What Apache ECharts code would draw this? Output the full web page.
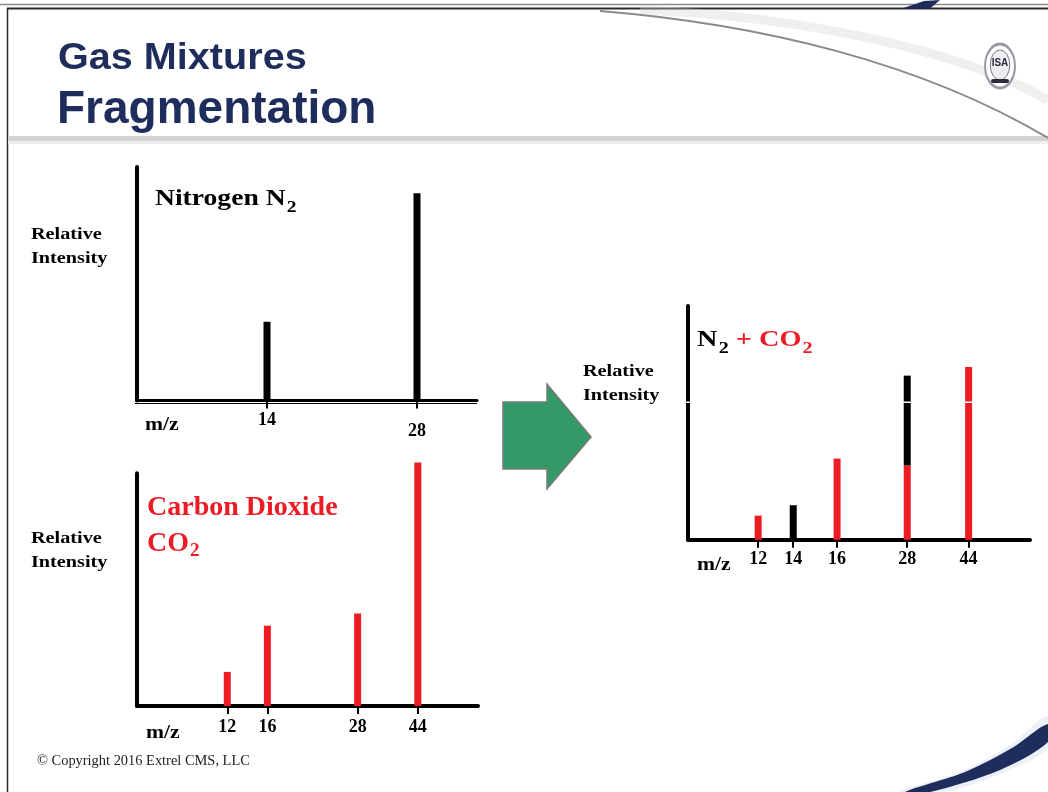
<!DOCTYPE html>
<html>
<head>
<meta charset="utf-8">
<script src="https://cdn.jsdelivr.net/npm/echarts@6/dist/echarts.min.js"></script>
<style>
  html, body { margin: 0; padding: 0; background: #ffffff; }
  #chart { width: 1048px; height: 792px; }
</style>
</head>
<body>
<div id="chart"></div>
<script>
// Mass spectra peaks: m/z tick label and relative intensity
const n2Mz = ['14', '28'];
const n2Intensity = [38, 100];

const co2Mz = ['12', '16', '28', '44'];
const co2Intensity = [14, 33, 38, 100];

const mixMz = ['12', '14', '16', '28', '44'];
const mixCo2Part = [14, null, 47, 43, 100];
const mixN2Part = [null, 20, null, 52, null];

// Axis layout: slot count of each schematic m/z axis, the slot a tick sits on, value range
const n2Axis = { slots: 35, at: { '14': 13, '28': 28 }, max: 112.7 };
const co2Axis = { slots: 35, at: { '12': 9, '16': 13, '28': 22, '44': 28 }, max: 95.6 };
const mixAxis = { slots: 40, at: { '12': 8, '14': 12, '16': 17, '28': 25, '44': 32 }, max: 135.3 };

const SERIF = 'Liberation Serif';
const SANS = 'Liberation Sans';
const NAVY = '#1f2d5c';
const RED = '#ed1c24';
const BLACK = '#000000';

function categories(axis) {
  const cats = new Array(axis.slots).fill('');
  Object.keys(axis.at).forEach(function (mz) { cats[axis.at[mz]] = mz; });
  return cats;
}

function placeValues(axis, mz, values) {
  const arr = new Array(axis.slots).fill(null);
  mz.forEach(function (m, i) { arr[axis.at[m]] = values[i]; });
  return arr;
}

const onlyPeaks = function (index, value) { return value !== ''; };

function xAxisFor(gridIndex, axis, margin, lineWidth, rich) {
  return {
    gridIndex: gridIndex,
    type: 'category',
    data: categories(axis),
    boundaryGap: false,
    axisLine: { show: true, lineStyle: { color: BLACK, width: lineWidth } },
    axisTick: { show: true, interval: onlyPeaks, length: 8, lineStyle: { color: BLACK, width: 2 } },
    axisLabel: {
      show: true,
      interval: onlyPeaks,
      margin: margin,
      color: BLACK,
      fontFamily: SERIF,
      fontWeight: 'bold',
      fontSize: 18,
      formatter: rich ? rich.formatter : undefined,
      rich: rich ? rich.styles : undefined
    },
    splitLine: { show: false }
  };
}

function yAxisFor(gridIndex, axis) {
  return {
    gridIndex: gridIndex,
    type: 'value',
    min: 0,
    max: axis.max,
    axisLine: { show: true, lineStyle: { color: BLACK, width: 4 } },
    axisTick: { show: false },
    axisLabel: { show: false },
    splitLine: { show: false }
  };
}

function barSeries(idx, data, color, stack) {
  return {
    type: 'bar',
    xAxisIndex: idx,
    yAxisIndex: idx,
    data: data,
    barWidth: 7,
    stack: stack,
    clip: false,
    silent: true,
    itemStyle: { color: color },
    z: 3
  };
}

// Text helpers for the slide annotations
function label(x, y, text, opts) {
  opts = opts || {};
  return {
    type: 'text',
    x: x, y: y,
    scaleX: opts.scaleX || 1,
    z: 50,
    style: {
      x: 0, y: 0,
      text: text,
      fill: opts.fill || BLACK,
      fontFamily: opts.fontFamily || SERIF,
      fontWeight: opts.fontWeight || 'bold',
      fontSize: opts.fontSize || 18,
      lineHeight: opts.lineHeight,
      align: 'left',
      verticalAlign: opts.verticalAlign || 'middle',
      rich: opts.rich
    }
  };
}

function formulaRich(size, subSize, colorMain, colorSub) {
  return {
    m: { fontSize: size, fontFamily: SERIF, fontWeight: 'bold', fill: colorMain, lineHeight: 28, verticalAlign: 'top' },
    s: { fontSize: subSize, fontFamily: SERIF, fontWeight: 'bold', fill: colorMain, lineHeight: 20, padding: [12, 0, 0, 1], verticalAlign: 'top' },
    r: { fontSize: size, fontFamily: SERIF, fontWeight: 'bold', fill: colorSub, lineHeight: 28, verticalAlign: 'top' },
    rs: { fontSize: subSize, fontFamily: SERIF, fontWeight: 'bold', fill: colorSub, lineHeight: 20, padding: [12, 0, 0, 1], verticalAlign: 'top' }
  };
}

const n2LabelRich = {
  formatter: function (v) { return v === '28' ? '{low|28}' : v; },
  styles: { low: { fontFamily: SERIF, fontWeight: 'bold', fontSize: 18, color: BLACK, padding: [11, 0, 0, 0] } }
};

const decorations = [
  // slide frame
  { type: 'line', shape: { x1: 0, y1: 4.5, x2: 1048, y2: 4.5 }, style: { stroke: '#8c8c8c', lineWidth: 1.5 } },
  { type: 'line', shape: { x1: 7, y1: 8.5, x2: 1048, y2: 8.5 }, style: { stroke: '#2a2a2a', lineWidth: 2 } },
  { type: 'line', shape: { x1: 7.5, y1: 8, x2: 7.5, y2: 792 }, style: { stroke: '#2a2a2a', lineWidth: 1.5 } },
  { type: 'rect', shape: { x: 8, y: 136, width: 1040, height: 5 }, style: { fill: '#d3d3d3' } },
  { type: 'rect', shape: { x: 8, y: 141, width: 1040, height: 3 }, style: { fill: '#eeeeee' } },
  // header swoosh
  { type: 'bezierCurve', shape: { x1: 640, y1: 10, cpx1: 800, cpy1: 16, cpx2: 960, cpy2: 50, x2: 1048, y2: 100 },
    style: { stroke: 'rgba(210,210,210,0.35)', lineWidth: 9, fill: null } },
  { type: 'bezierCurve', shape: { x1: 600, y1: 11, cpx1: 760, cpy1: 24, cpx2: 920, cpy2: 62, x2: 1048, y2: 138 },
    style: { stroke: '#8a8a8a', lineWidth: 2, fill: null } },
  { type: 'polygon', shape: { points: [[902, 8.5], [924, 1], [940, 0], [930, 8.5]] }, style: { fill: NAVY } },
  // logo
  { type: 'circle', x: 1000, y: 66, scaleX: 0.68, shape: { cx: 0, cy: 0, r: 22 }, style: { fill: '#ffffff', stroke: '#9a9aa4', lineWidth: 3 } },
  { type: 'circle', x: 1000, y: 65, scaleX: 0.65, shape: { cx: 0, cy: 0, r: 15 }, style: { fill: '#eeeef2', stroke: '#5a5a66', lineWidth: 1 } },
  { type: 'text', x: 1000, y: 63, z: 50, style: { text: 'ISA', fill: '#2b2b3a', fontFamily: SANS, fontWeight: 'bold', fontSize: 10, align: 'center', verticalAlign: 'middle' } },
  { type: 'rect', shape: { x: 991, y: 79, width: 18, height: 4, r: 2 }, style: { fill: '#2b2b3a' } },
  // footer swoosh
  { type: 'polygon', shape: { points: [[898, 792], [960, 772], [1010, 745], [1048, 716], [1048, 748], [1000, 774], [945, 792]], smooth: 0.3 },
    style: { fill: 'rgba(200,215,235,0.35)' } },
  { type: 'polygon', shape: { points: [[905, 792], [965, 772], [1012, 748], [1048, 724], [1048, 742], [1000, 770], [930, 792]], smooth: 0.3 },
    style: { fill: NAVY } },
  // arrow
  { type: 'polygon', shape: { points: [[503, 402], [547, 402], [547, 384], [591, 437], [547, 489], [547, 469], [503, 469]] },
    style: { fill: '#339966', stroke: '#7a7a7a', lineWidth: 1.5 } },
  // thin rule under the nitrogen axis
  { type: 'line', shape: { x1: 135, y1: 403.5, x2: 477, y2: 403.5 }, style: { stroke: '#000000', lineWidth: 1 } },
  // white seam across the mixture panel
  { type: 'rect', z: 100, shape: { x: 684, y: 401.5, width: 290, height: 1.5 }, style: { fill: '#ffffff' } }
];

const texts = [
  label(58, 59, 'Gas Mixtures', { fontFamily: SANS, fontSize: 36, scaleX: 1.1, fill: NAVY }),
  label(57, 110, 'Fragmentation', { fontFamily: SANS, fontSize: 46, fill: NAVY }),

  label(31, 223, 'Relative\nIntensity', { fontSize: 17, lineHeight: 24, scaleX: 1.19, verticalAlign: 'top' }),
  label(31, 527, 'Relative\nIntensity', { fontSize: 17, lineHeight: 24, scaleX: 1.19, verticalAlign: 'top' }),
  label(583, 360, 'Relative\nIntensity', { fontSize: 17, lineHeight: 24, scaleX: 1.19, verticalAlign: 'top' }),

  label(145, 425, 'm/z', { fontSize: 18, scaleX: 1.2 }),
  label(146, 733, 'm/z', { fontSize: 18, scaleX: 1.2 }),
  label(697, 565, 'm/z', { fontSize: 18, scaleX: 1.2 }),

  label(155, 187, '{m|Nitrogen N}{s|2}', { scaleX: 1.15, verticalAlign: 'top', rich: formulaRich(24, 17, BLACK, RED) }),
  label(147, 508, 'Carbon Dioxide', { fontSize: 28, fill: RED }),
  label(147, 530, '{m|CO}{s|2}', { verticalAlign: 'top', rich: formulaRich(28, 19, RED, RED) }),
  label(697, 328, '{m|N}{s|2}{r| + CO}{rs|2}', { scaleX: 1.18, verticalAlign: 'top', rich: formulaRich(24, 17, BLACK, RED) }),

  label(37, 761, '\u00a9 Copyright 2016 Extrel CMS, LLC', { fontWeight: 'normal', fontSize: 14, scaleX: 1.03, fill: '#222222' })
];

const chart = echarts.init(document.getElementById('chart'), null, { renderer: 'canvas' });

chart.setOption({
  backgroundColor: '#ffffff',
  animation: false,
  grid: [
    { left: 137, top: 167, width: 340, height: 233.5 },
    { left: 137, top: 473.3, width: 341, height: 232.7 },
    { left: 688, top: 306, width: 342, height: 233.8 }
  ],
  xAxis: [
    xAxisFor(0, n2Axis, 11, 3, n2LabelRich),
    xAxisFor(1, co2Axis, 12, 4),
    xAxisFor(2, mixAxis, 11, 4)
  ],
  yAxis: [
    yAxisFor(0, n2Axis),
    yAxisFor(1, co2Axis),
    yAxisFor(2, mixAxis)
  ],
  series: [
    barSeries(0, placeValues(n2Axis, n2Mz, n2Intensity), BLACK),
    barSeries(1, placeValues(co2Axis, co2Mz, co2Intensity), RED),
    barSeries(2, placeValues(mixAxis, mixMz, mixCo2Part), RED, 'mix'),
    barSeries(2, placeValues(mixAxis, mixMz, mixN2Part), BLACK, 'mix')
  ],
  graphic: { elements: decorations.concat(texts) }
});
</script>
</body>
</html>
